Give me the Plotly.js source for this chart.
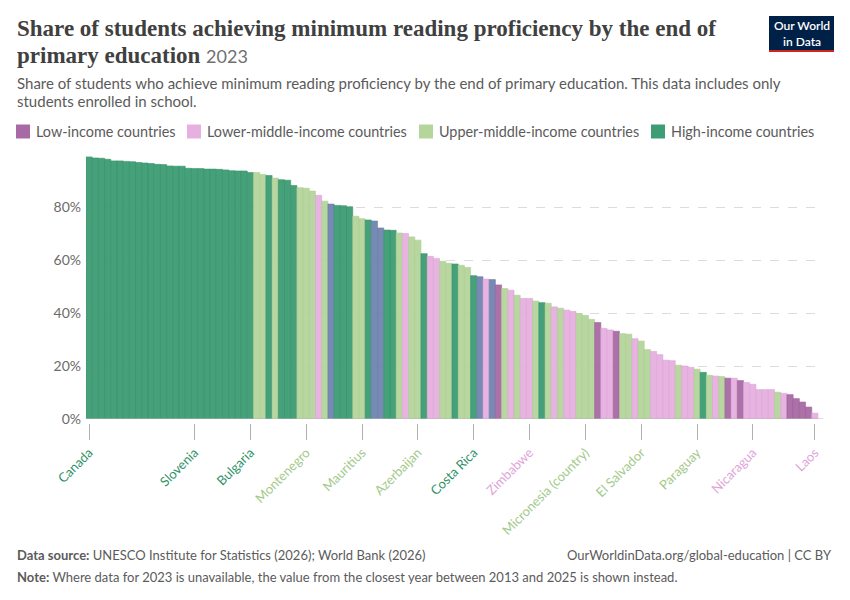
<!DOCTYPE html>
<html>
<head>
<meta charset="utf-8">
<script src="https://cdn.plot.ly/plotly-3.0.1.min.js"></script>
<style>
  html, body { margin: 0; padding: 0; background: #fff; }
  #chart { width: 850px; height: 600px; }
</style>
</head>
<body>
<div id="chart"></div>
<script>
// ---- Data ----
// Share of students (%) achieving minimum reading proficiency, sorted descending
const values = [
  98.9, 98.5, 98.4, 98.0, 97.4, 97.4, 97.2, 97.1, 96.8, 96.6,
  96.4, 96.1, 96.0, 95.5, 95.4, 95.4, 94.6, 94.5, 94.5, 94.3,
  94.3, 94.2, 94.0, 93.7, 93.6, 93.6, 93.0, 93.0, 92.3, 91.9,
  90.9, 90.3, 90.1, 88.1, 87.3, 87.1, 86.0, 84.4, 82.2, 81.1,
  80.6, 80.5, 80.1, 76.5, 75.6, 75.1, 74.7, 72.1, 71.3, 71.2,
  70.2, 70.0, 68.7, 67.5, 62.4, 61.4, 60.6, 59.5, 58.8, 58.5,
  58.0, 57.2, 54.1, 53.7, 52.8, 52.6, 50.6, 49.2, 48.6, 46.7,
  45.5, 45.5, 44.5, 43.9, 43.7, 42.3, 41.8, 41.1, 40.6, 39.8,
  39.1, 37.6, 36.4, 34.2, 33.6, 33.1, 32.2, 32.0, 30.3, 29.4,
  26.2, 25.5, 24.3, 22.2, 22.0, 20.3, 20.0, 19.5, 18.8, 17.6,
  16.5, 16.2, 16.0, 15.4, 15.4, 14.5, 13.8, 13.1, 11.1, 11.1,
  11.1, 10.1, 9.7, 9.2, 7.7, 6.4, 4.5, 2.2
];

// Income group of each bar: L = low, M = lower-middle, U = upper-middle, H = high, B = mixed/other
const groups = [
  "H","H","H","H","H","H","H","H","H","H",
  "H","H","H","H","H","H","H","H","H","H",
  "H","H","H","H","H","H","H","U","U","H",
  "U","H","H","H","U","U","U","M","U","B",
  "H","H","H","U","U","H","B","B","H","H",
  "U","M","U","U","H","M","M","U","U","H",
  "U","U","H","B","M","B","L","U","M","U",
  "M","M","U","H","U","M","U","M","M","U",
  "U","U","L","M","M","L","U","U","M","U",
  "U","M","M","M","M","U","M","M","U","H",
  "U","M","U","L","M","L","M","M","M","M",
  "M","U","M","L","L","L","L","M"
];

// Labelled countries on the x axis and their rank position
const labelNames = ["Canada", "Slovenia", "Bulgaria", "Montenegro", "Mauritius", "Azerbaijan",
  "Costa Rica", "Zimbabwe", "Micronesia (country)", "El Salvador", "Paraguay", "Nicaragua", "Laos"];
const labelRanks = [0, 17, 26, 35, 44, 53, 62, 71, 80, 89, 98, 107, 117];

const legendNames = ["Low-income countries", "Lower-middle-income countries",
  "Upper-middle-income countries", "High-income countries"];
const legendCodes = ["L", "M", "U", "H"];

const yTicks = [0, 20, 40, 60, 80];

// ---- Styles ----
const colors = { L: "#a86aa4", M: "#e6b0e0", U: "#b5d59b", H: "#3d9d74", B: "#6f84b0" };
const lineColors = { L: "#9a5a96", M: "#dba3d5", U: "#a9cc8e", H: "#2f8f66", B: "#637aa6" };
const labelColors = { L: "#a86aa4", M: "#e0a4da", U: "#a3c98a", H: "#2f9168" };

const M = { l: 86, r: 27, t: 154, b: 177 };
const PW = 850 - M.l - M.r, PH = 600 - M.t - M.b;
const px = x => (x - M.l) / PW;
const py = y => (600 - M.b - y) / PH;

const xIdx = values.map((_, i) => i);
const barWidthPx = 6.203;
const xMax = -0.5 + PW / barWidthPx;

const trace = {
  type: "bar",
  x: xIdx,
  y: values,
  marker: {
    color: groups.map(g => colors[g]),
    line: { color: groups.map(g => lineColors[g]), width: 0.6 },
    opacity: 0.95
  },
  width: 1,
  hoverinfo: "y",
  showlegend: false
};

const tickText = labelNames.map((n, k) => {
  const g = groups[labelRanks[k]];
  return '<span style="color:' + labelColors[g] + '">' + n + '</span>';
});

const sans = "Lato, 'Noto Sans', sans-serif";
const annotations = [];
const shapes = [];

function txt(text, x, y, opts) {
  annotations.push(Object.assign({
    text: text, x: px(x), y: py(y), xref: "paper", yref: "paper",
    xanchor: "left", yanchor: "middle", showarrow: false,
    font: { family: sans, size: 15, color: "#5b5b5b" }
  }, opts || {}));
}

// Title
const serif = "'Liberation Serif', 'DejaVu Serif', serif";
txt("<b>Share of students achieving minimum reading proficiency by the end of</b>", 15, 29,
  { font: { family: serif, size: 23, color: "#404040" } });
txt("<b>primary education</b> <span style=\"font-family:Lato;font-size:18px;color:#707070\">2023</span>", 15, 55,
  { font: { family: serif, size: 23, color: "#404040" } });

// Subtitle
txt("Share of students who achieve minimum reading proficiency by the end of primary education. This data includes only", 15, 83,
  { font: { family: sans, size: 15, color: "#5b5b5b" } });
txt("students enrolled in school.", 15, 101,
  { font: { family: sans, size: 15, color: "#5b5b5b" } });

// Legend (drawn manually)
const legendX = [16, 187, 419, 651];
legendCodes.forEach((c, k) => {
  shapes.push({
    type: "rect", xref: "paper", yref: "paper",
    x0: px(legendX[k]), x1: px(legendX[k] + 14), y0: py(138.5), y1: py(124.5),
    fillcolor: colors[c], line: { width: 0 }
  });
  txt(legendNames[k], legendX[k] + 18, 131.5, { font: { family: sans, size: 14.4, color: "#5b5b5b" } });
});

// Logo
shapes.push({ type: "rect", xref: "paper", yref: "paper", x0: px(769), x1: px(834), y0: py(50), y1: py(16),
  fillcolor: "#002147", line: { width: 0 } });
shapes.push({ type: "rect", xref: "paper", yref: "paper", x0: px(769), x1: px(834), y0: py(52), y1: py(50),
  fillcolor: "#ce261e", line: { width: 0 } });
annotations.push({ text: "Our World<br>in Data", x: px(801.5), y: py(33), xref: "paper", yref: "paper",
  xanchor: "center", yanchor: "middle", showarrow: false, align: "center",
  font: { family: sans, size: 12, color: "#ffffff", weight: 600 } });

// Footer
txt("<b>Data source:</b> UNESCO Institute for Statistics (2026); World Bank (2026)", 15, 555,
  { font: { family: sans, size: 13, color: "#5b5b5b" } });
txt("<b>Note:</b> Where data for 2023 is unavailable, the value from the closest year between 2013 and 2025 is shown instead.", 15, 577,
  { font: { family: sans, size: 13, color: "#5b5b5b" } });
annotations.push({ text: "OurWorldinData.org/global-education | CC BY", x: px(834), y: py(555),
  xref: "paper", yref: "paper", xanchor: "right", yanchor: "middle", showarrow: false,
  font: { family: sans, size: 13, color: "#5b5b5b" } });

// Baseline at 0 (above the bars)
shapes.push({ type: "line", xref: "paper", yref: "y", x0: 0, x1: 1, y0: 0, y1: 0,
  line: { color: "#b8b8b8", width: 1 }, layer: "above" });

const layout = {
  width: 850, height: 600,
  margin: M,
  paper_bgcolor: "#ffffff", plot_bgcolor: "#ffffff",
  bargap: 0,
  showlegend: false,
  xaxis: {
    type: "linear", range: [-0.5, xMax],
    tickmode: "array", tickvals: labelRanks, ticktext: tickText,
    tickangle: -45, ticks: "outside", ticklen: 16, tickcolor: "#b0b0b0", tickwidth: 1,
    showgrid: false, zeroline: false, showline: false,
    anchor: "free", position: 0,
    tickfont: { family: sans, size: 13 }
  },
  yaxis: {
    domain: [4 / PH, 1],
    range: [0, 100],
    tickmode: "array", tickvals: yTicks, ticktext: yTicks.map(v => v + "%"),
    showgrid: true, gridcolor: "#dcdcdc", griddash: "dash", gridwidth: 1,
    zeroline: false, showline: false, ticks: "",
    ticklabelstandoff: 4,
    tickfont: { family: sans, size: 14, color: "#6b6b6b" }
  },
  annotations: annotations,
  shapes: shapes
};

Plotly.newPlot("chart", [trace], layout, { displayModeBar: false, staticPlot: true });
</script>
</body>
</html>
